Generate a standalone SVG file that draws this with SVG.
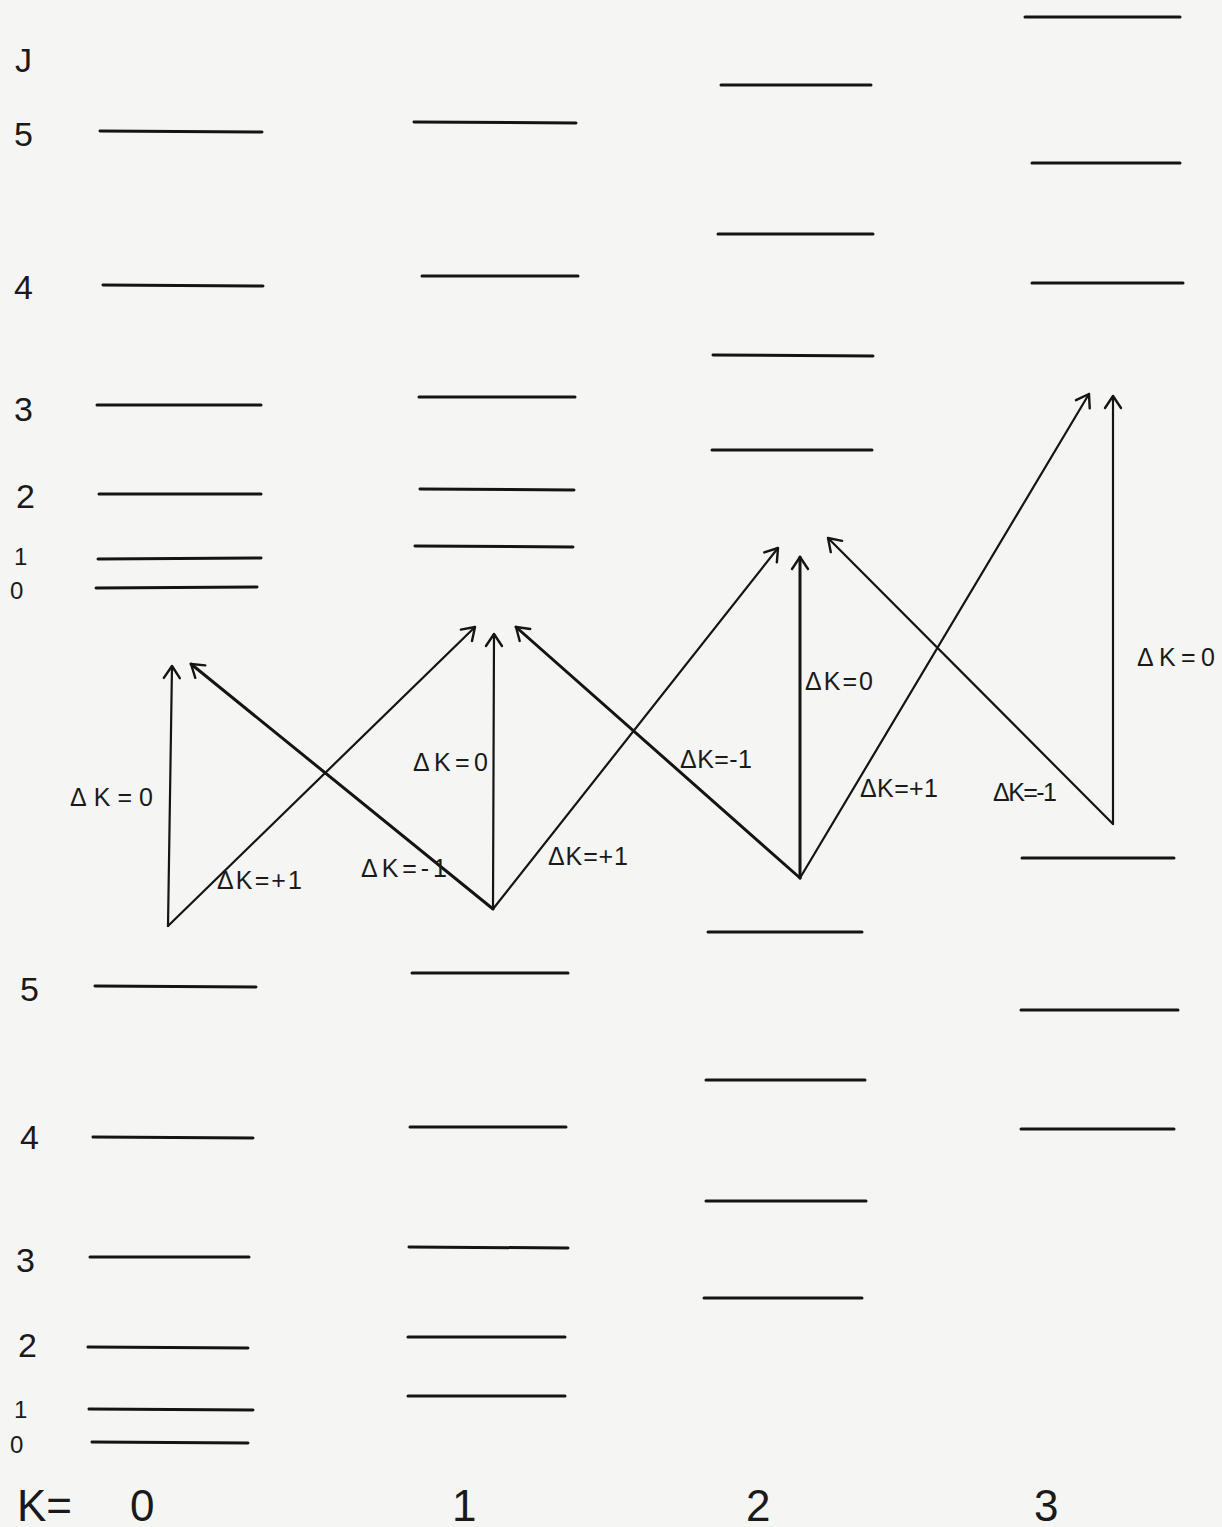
<svg xmlns="http://www.w3.org/2000/svg" width="1222" height="1527" viewBox="0 0 1222 1527">
<style>
.bg{fill:#f5f5f4}
.lvl{stroke:#141414;stroke-width:3;stroke-linecap:round;fill:none}
.arr{stroke:#141414;stroke-width:2.2;fill:none;stroke-linecap:round;marker-end:url(#ah)}
.thick{stroke-width:3}
.ax{font-family:"Liberation Sans",Arial,sans-serif;font-size:34px;fill:#1a1a1a}
.axs{font-family:"Liberation Sans",Arial,sans-serif;font-size:24px;fill:#1a1a1a}
.big{font-family:"Liberation Sans",Arial,sans-serif;font-size:44px;fill:#1a1a1a}
.dl{font-family:"Liberation Sans",Arial,sans-serif;font-size:25px;fill:#1a1a1a}
</style>
<defs>
<marker id="ah" markerUnits="userSpaceOnUse" markerWidth="30" markerHeight="30" refX="0" refY="0" viewBox="-15 -15 30 30" orient="auto">
<path d="M -12 -8 L 0 0 L -12 8" fill="none" stroke="#141414" stroke-width="2.4" stroke-linecap="round" stroke-linejoin="round"/>
</marker>
</defs>
<rect class="bg" x="0" y="0" width="1222" height="1527"/>

<g id="axis-labels">
<text class="ax" x="15" y="72" font-size="40">J</text>
<text class="ax" x="14" y="146">5</text>
<text class="ax" x="14" y="299">4</text>
<text class="ax" x="14" y="421">3</text>
<text class="ax" x="16" y="508">2</text>
<text class="axs" x="14" y="565">1</text>
<text class="axs" x="10" y="599">0</text>
<text class="ax" x="20" y="1001">5</text>
<text class="ax" x="20" y="1149">4</text>
<text class="ax" x="16" y="1272">3</text>
<text class="ax" x="18" y="1357">2</text>
<text class="axs" x="14" y="1418">1</text>
<text class="axs" x="10" y="1453">0</text>
<text class="big" x="17" y="1521">K=</text>
<text class="big" x="130" y="1521">0</text>
<text class="big" x="452" y="1521">1</text>
<text class="big" x="746" y="1521">2</text>
<text class="big" x="1034" y="1521">3</text>
</g>

<g id="upper-K0">
<line class="lvl" x1="100" y1="131" x2="262" y2="132"/>
<line class="lvl" x1="103" y1="285" x2="263" y2="286"/>
<line class="lvl" x1="97" y1="405" x2="261" y2="405"/>
<line class="lvl" x1="99" y1="494" x2="261" y2="494"/>
<line class="lvl" x1="98" y1="559" x2="261" y2="558"/>
<line class="lvl" x1="96" y1="588" x2="257" y2="587"/>
</g>
<g id="upper-K1">
<line class="lvl" x1="414" y1="122" x2="576" y2="123"/>
<line class="lvl" x1="422" y1="276" x2="578" y2="276"/>
<line class="lvl" x1="419" y1="397" x2="575" y2="397"/>
<line class="lvl" x1="420" y1="489" x2="574" y2="490"/>
<line class="lvl" x1="415" y1="546" x2="573" y2="547"/>
</g>
<g id="upper-K2">
<line class="lvl" x1="721" y1="85" x2="871" y2="85"/>
<line class="lvl" x1="718" y1="234" x2="873" y2="234"/>
<line class="lvl" x1="713" y1="355" x2="873" y2="356"/>
<line class="lvl" x1="712" y1="450" x2="872" y2="450"/>
</g>
<g id="upper-K3">
<line class="lvl" x1="1025" y1="17" x2="1180" y2="17"/>
<line class="lvl" x1="1032" y1="163" x2="1180" y2="163"/>
<line class="lvl" x1="1032" y1="283" x2="1183" y2="283"/>
</g>

<g id="lower-K0">
<line class="lvl" x1="95" y1="986" x2="256" y2="987"/>
<line class="lvl" x1="93" y1="1137" x2="253" y2="1138"/>
<line class="lvl" x1="90" y1="1257" x2="249" y2="1257"/>
<line class="lvl" x1="88" y1="1347" x2="248" y2="1348"/>
<line class="lvl" x1="89" y1="1409" x2="253" y2="1410"/>
<line class="lvl" x1="92" y1="1442" x2="248" y2="1443"/>
</g>
<g id="lower-K1">
<line class="lvl" x1="412" y1="973" x2="568" y2="973"/>
<line class="lvl" x1="410" y1="1127" x2="566" y2="1127"/>
<line class="lvl" x1="409" y1="1247" x2="568" y2="1248"/>
<line class="lvl" x1="408" y1="1337" x2="565" y2="1337"/>
<line class="lvl" x1="408" y1="1396" x2="565" y2="1396"/>
</g>
<g id="lower-K2">
<line class="lvl" x1="708" y1="932" x2="862" y2="932"/>
<line class="lvl" x1="706" y1="1080" x2="865" y2="1080"/>
<line class="lvl" x1="706" y1="1201" x2="866" y2="1201"/>
<line class="lvl" x1="704" y1="1298" x2="862" y2="1298"/>
</g>
<g id="lower-K3">
<line class="lvl" x1="1022" y1="858" x2="1174" y2="858"/>
<line class="lvl" x1="1021" y1="1010" x2="1178" y2="1010"/>
<line class="lvl" x1="1021" y1="1129" x2="1174" y2="1129"/>
</g>

<g id="connectors">
<line class="arr" x1="168" y1="926" x2="172" y2="666"/>
<line class="arr" x1="168" y1="926" x2="475" y2="627"/>
<line class="arr thick" x1="493" y1="909" x2="191" y2="664"/>
<line class="arr" x1="493" y1="909" x2="494" y2="634"/>
<line class="arr" x1="493" y1="909" x2="778" y2="548"/>
<line class="arr thick" x1="800" y1="878" x2="516" y2="627"/>
<line class="arr thick" x1="800" y1="878" x2="800" y2="557"/>
<line class="arr" x1="800" y1="878" x2="1089" y2="394"/>
<line class="arr" x1="1113" y1="824" x2="828" y2="538"/>
<line class="arr" x1="1113" y1="824" x2="1113" y2="396"/>
</g>

<g id="transition-labels">
<text class="dl" x="70" y="806" textLength="83" lengthAdjust="spacing">ΔK=0</text>
<text class="dl" x="217" y="889" textLength="85" lengthAdjust="spacing">ΔK=+1</text>
<text class="dl" x="361" y="877" textLength="86" lengthAdjust="spacing">ΔK=-1</text>
<text class="dl" x="413" y="771" textLength="75" lengthAdjust="spacing">ΔK=0</text>
<text class="dl" x="548" y="865" textLength="80" lengthAdjust="spacing">ΔK=+1</text>
<text class="dl" x="680" y="768" textLength="72" lengthAdjust="spacing">ΔK=-1</text>
<text class="dl" x="805" y="690" textLength="68" lengthAdjust="spacing">ΔK=0</text>
<text class="dl" x="860" y="797" textLength="78" lengthAdjust="spacing">ΔK=+1</text>
<text class="dl" x="993" y="801" textLength="64" lengthAdjust="spacing">ΔK=-1</text>
<text class="dl" x="1137" y="666" textLength="78" lengthAdjust="spacing">ΔK=0</text>
</g>
</svg>
